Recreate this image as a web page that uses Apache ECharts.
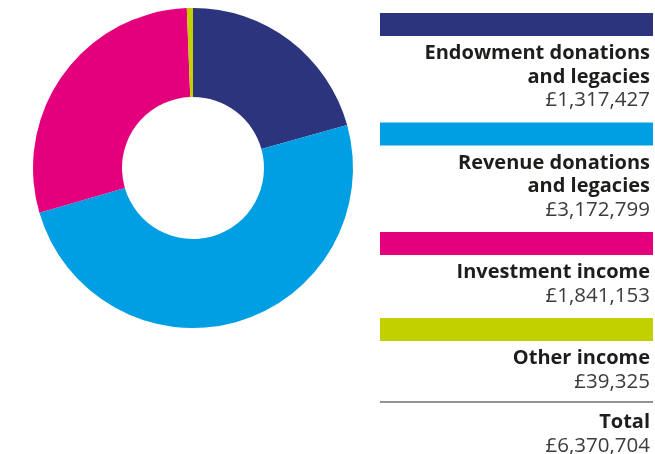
<!DOCTYPE html>
<html>
<head>
<meta charset="utf-8">
<script src="https://cdn.jsdelivr.net/npm/echarts@6/dist/echarts.min.js"></script>
<style>
  html, body { margin: 0; padding: 0; background: #fff; }
  #chart { width: 655px; height: 454px; }
</style>
</head>
<body>
<div id="chart"></div>
<script>
// Income sources (£)
const categories = [
  ['Endowment donations', 'and legacies'],
  ['Revenue donations', 'and legacies'],
  ['Investment income'],
  ['Other income']
];
const values = [1317427, 3172799, 1841153, 39325];
const colors = ['#2b347c', '#009ee2', '#e4007d', '#c2d000'];
const totalLabel = 'Total';

const fmt = v => '£' + v.toLocaleString('en-GB');
const total = values.reduce((a, b) => a + b, 0);

const FONT = '"Open Sans", "Noto Sans", sans-serif';
const legendLeft = 380, legendRight = 653, textRight = 650;
const lineH = 23.5;
const nameFont = 'bold 20px ' + FONT;
const valueFont = '20.5px ' + FONT;

// Build the key on the right: colour bar, then right-aligned name and amount
const graphics = [];
let y = 13;
categories.forEach((lines, i) => {
  graphics.push({
    type: 'rect',
    shape: { x: legendLeft, y: y, width: legendRight - legendLeft, height: 23 },
    style: { fill: colors[i] }
  });
  let ty = y + 40.5;
  lines.forEach(t => {
    graphics.push({
      type: 'text', x: textRight, y: ty,
      style: { text: t, font: nameFont, fill: '#1d1d1b', align: 'right', verticalAlign: 'middle' }
    });
    ty += lineH;
  });
  graphics.push({
    type: 'text', x: textRight, y: ty,
    style: { text: fmt(values[i]), font: valueFont, fill: '#3c3c3b', align: 'right', verticalAlign: 'middle' }
  });
  y = ty + 22;
});
// Divider and total
graphics.push({
  type: 'line',
  shape: { x1: legendLeft, y1: 402, x2: legendRight, y2: 402 },
  style: { stroke: '#6f6f6e', lineWidth: 1.5 }
});
graphics.push({
  type: 'text', x: textRight, y: 422.5,
  style: { text: totalLabel, font: nameFont, fill: '#1d1d1b', align: 'right', verticalAlign: 'middle' }
});
graphics.push({
  type: 'text', x: textRight, y: 446,
  style: { text: fmt(total), font: valueFont, fill: '#3c3c3b', align: 'right', verticalAlign: 'middle' }
});

const chart = echarts.init(document.getElementById('chart'), null, { renderer: 'canvas' });
chart.setOption({
  animation: false,
  backgroundColor: '#fff',
  color: colors,
  series: [{
    type: 'pie',
    center: [193, 168],
    radius: [71, 160],
    startAngle: 90,
    clockwise: true,
    label: { show: false },
    labelLine: { show: false },
    emphasis: { disabled: true },
    itemStyle: { borderWidth: 0 },
    data: values.map((v, i) => ({ name: categories[i].join(' '), value: v }))
  }],
  graphic: graphics
});
</script>
</body>
</html>
